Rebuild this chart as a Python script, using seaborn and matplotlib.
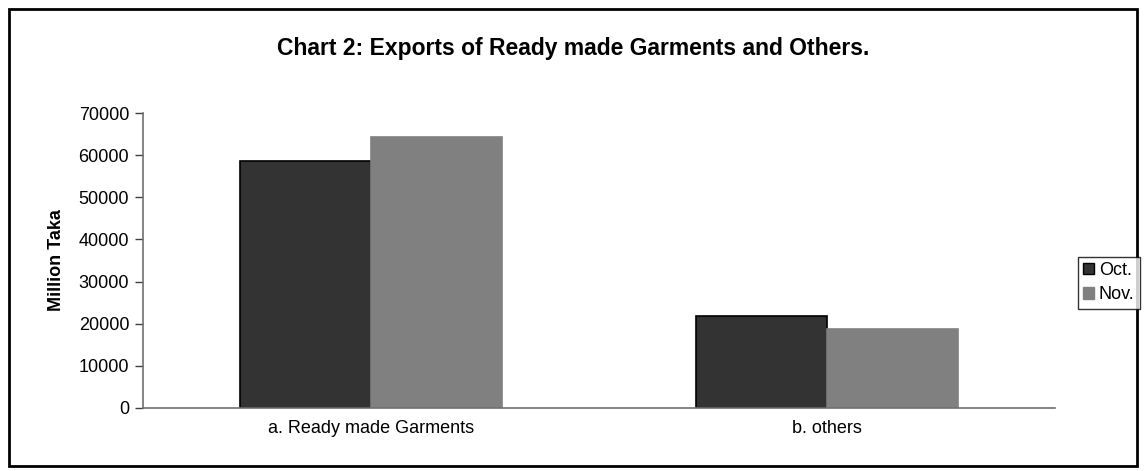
import pandas as pd
import numpy as np
import matplotlib.pyplot as plt
import matplotlib.patches as mpatches
import seaborn as sns

# values (million Taka)
categories = ['a. Ready made Garments', 'b. others']
months     = ['Oct.', 'Nov.']
oct_vals   = [58700, 21900]
nov_vals   = [64200, 18700]
y_ticks    = [0, 10000, 20000, 30000, 40000, 50000, 60000, 70000]

df = pd.DataFrame({
    'category': categories * 2,
    'month':    [months[0]] * 2 + [months[1]] * 2,
    'value':    oct_vals + nov_vals,
})

sns.set_style('white')
plt.rcParams['font.family'] = ['Liberation Sans', 'DejaVu Sans']
plt.rcParams['text.color'] = 'black'
plt.rcParams['xtick.color'] = 'black'
plt.rcParams['ytick.color'] = 'black'
plt.rcParams['axes.labelcolor'] = 'black'

FS = 13

fig = plt.figure(figsize=(11.46, 4.71), dpi=100)
ax = fig.add_axes([0.1248, 0.134, 0.7958, 0.626])

palette = {'Oct.': '#333333', 'Nov.': '#808080'}
sns.barplot(data=df, x='category', y='value', hue='month', palette=palette,
            width=0.575, saturation=1, ax=ax, legend=False)

# outline: black on Oct., none on Nov. (as in the Excel original)
for bar_container, edge in zip(ax.containers, ['black', '#808080']):
    for p in bar_container:
        p.set_edgecolor(edge)
        p.set_linewidth(1.2)

ax.set_xlim(-0.5, 1.5)
ax.set_ylim(0, 70000)
ax.set_yticks(y_ticks)
ax.set_yticklabels([str(t) for t in y_ticks], fontsize=FS)
ax.set_xlabel('')
ax.set_ylabel('Million Taka', fontsize=FS, fontweight='bold', labelpad=10)

# Excel-style: category ticks sit between the groups
ax.set_xticks([0, 1])
ax.set_xticklabels(categories, fontsize=FS)
ax.tick_params(axis='x', which='major', length=0, pad=9)
ax.set_xticks([-0.5, 0.5, 1.5], minor=True)
ax.tick_params(axis='x', which='minor', length=6, width=1, color='#404040', direction='out')
ax.tick_params(axis='y', length=6, width=1, color='#404040', direction='out', left=True, pad=4)

for s in ['top', 'right']:
    ax.spines[s].set_visible(False)
for s in ['left', 'bottom']:
    ax.spines[s].set_color('#707070')
    ax.spines[s].set_linewidth(1.2)

fig.text(0.5, 0.898, 'Chart 2: Exports of Ready made Garments and Others.',
         ha='center', va='center', fontsize=16.5, fontweight='bold')

handles = [mpatches.Patch(facecolor=palette[m], edgecolor='black' if m == 'Oct.' else '#808080',
                          label=m) for m in months]
leg = fig.legend(handles=handles, loc='center right', bbox_to_anchor=(0.9945, 0.40),
                 fontsize=FS, frameon=True, fancybox=False, handlelength=0.6,
                 handleheight=0.6, handletextpad=0.25, borderpad=0.3,
                 labelspacing=0.4, borderaxespad=0)
leg.get_frame().set_edgecolor('black')
leg.get_frame().set_linewidth(1)

# outer frame around the whole chart
fig.patches.append(mpatches.Rectangle((0.008, 0.011), 0.984, 0.97, transform=fig.transFigure,
                                      fill=False, edgecolor='black', linewidth=2))

plt.savefig('out.png', dpi=100)
